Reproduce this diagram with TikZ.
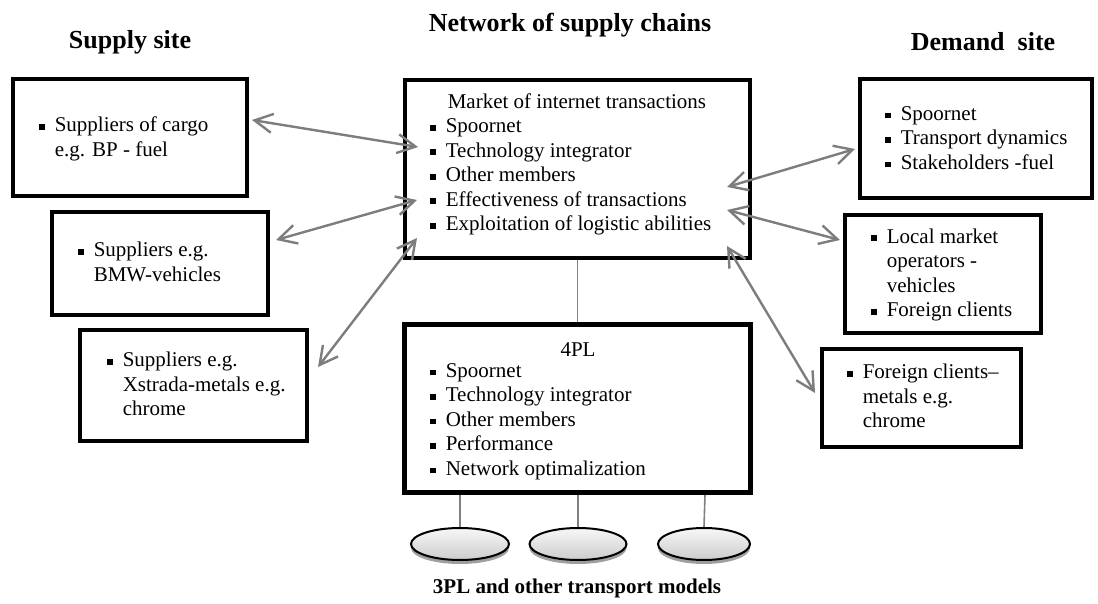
\documentclass[tikz,border=0pt]{standalone}
\usepackage{fontspec}
\setmainfont{Liberation Serif}
\usetikzlibrary{arrows.meta,shadows,shapes.geometric}
\newcommand{\sqb}{\raisebox{1pt}{\rule{2.9pt}{2.9pt}}}
\newenvironment{blist}{\begin{tabular}{@{}l@{\hspace{4.8pt}}l@{}}}{\end{tabular}}
\begin{document}
\begin{tikzpicture}[x=0.5pt,y=-0.5pt,
  box/.style={draw=black,line width=2.3pt,fill=white,inner sep=0pt},
  txt/.style={anchor=west,inner sep=0pt,font=\fontsize{10.5}{12.25}\selectfont},
  ttl/.style={inner sep=0pt,font=\fontsize{13}{15}\selectfont\bfseries},
  link/.style={draw=gray!98!black,line width=1.2pt,{Straight Barb[length=9pt,width=9.5pt]}-{Straight Barb[length=9pt,width=9.5pt]}},
  tie/.style={draw=gray,line width=0.8pt},
  oval/.style={ellipse,draw=black,line width=1pt,top color=gray!6,bottom color=gray!40,
    minimum width=48pt,minimum height=16pt,inner sep=0pt,
    drop shadow={shadow xshift=0pt,shadow yshift=-2pt,fill=gray!75,opacity=1}}]
\useasboundingbox (0,0) rectangle (1098,604);

% titles
\node[ttl] (tsup) at (130,42) {Supply site};
\node[ttl] (tnet) at (570,25) {Network of supply chains};
\node[ttl] (tdem) at (983,42) {Demand\ \ site};
\node[inner sep=0pt,font=\fontsize{10.5}{12}\selectfont\bfseries] (t3pl) at (577,588) {3PL and other transport models};

% boxes
\node[box,minimum width=117pt,minimum height=58.5pt] (s1) at (130,137.5) {};
\node[box,minimum width=108pt,minimum height=51.5pt] (s2) at (160,263.5) {};
\node[box,minimum width=113.5pt,minimum height=55.5pt] (s3) at (193.5,385.5) {};
\node[box,minimum width=172.5pt,minimum height=89pt] (c) at (577.5,169) {};
\node[box,minimum width=173pt,minimum height=84pt] (p) at (577.5,408.5) {};
\node[box,minimum width=116pt,minimum height=59.5pt] (d1) at (976,138.5) {};
\node[box,minimum width=98pt,minimum height=59pt] (d2) at (943,274) {};
\node[box,minimum width=99.5pt,minimum height=49pt] (d3) at (921.5,398) {};

% texts
\node[txt] (s1t) at (39,139) {\begin{blist}\sqb & Suppliers of cargo\\ & e.g. BP - fuel\end{blist}};
\node[txt] (s2t) at (78,264) {\begin{blist}\sqb & Suppliers e.g.\\ & BMW-vehicles\end{blist}};
\node[txt] (s3t) at (107,386.5) {\begin{blist}\sqb & Suppliers e.g.\\ & Xstrada-metals e.g.\\ & chrome\end{blist}};
\node[txt] (ct) at (430,164.5) {\begin{blist} & \hspace{1pt}Market of internet transactions\\
  \sqb & Spoornet\\ \sqb & Technology integrator\\ \sqb & Other members\\
  \sqb & Effectiveness of transactions\\ \sqb & Exploitation of logistic abilities\end{blist}};
\node[inner sep=0pt,font=\fontsize{10.5}{12.25}\selectfont] (pt0) at (578,350) {4PL};
\node[txt] (pt) at (430,421.5) {\begin{blist}\sqb & Spoornet\\ \sqb & Technology integrator\\ \sqb & Other members\\
  \sqb & Performance\\ \sqb & Network optimalization\end{blist}};
\node[txt] (d1t) at (885,140) {\begin{blist}\sqb & Spoornet\\ \sqb & Transport dynamics\\ \sqb & Stakeholders -fuel\end{blist}};
\node[txt] (d2t) at (871,275) {\begin{blist}\sqb & Local market\\ & operators -\\ & vehicles\\ \sqb & Foreign clients\end{blist}};
\node[txt] (d3t) at (847,398.5) {\begin{blist}\sqb & Foreign clients--\\ & metals e.g.\\ & chrome\end{blist}};

% ellipses
\node[oval,minimum width=49pt] (e1) at (460,544) {};
\node[oval,minimum width=48.5pt] (e2) at (578,544) {};
\node[oval,minimum width=46pt] (e3) at (704,544) {};

% ties
\draw[tie] (c.south) -- (p.north);
\draw[tie] (p.south -| e1.north) -- (e1.north);
\draw[tie] (p.south -| e2.north) -- (e2.north);
\draw[tie] (705,495) -- (e3.north);

% arrow end points
\coordinate (a1l) at (252,120); \coordinate (a1r) at (418,147);
\coordinate (a2l) at (276,240); \coordinate (a2r) at (417,200);
\coordinate (a3l) at (318,367); \coordinate (a3r) at (417,238);
\coordinate (a4l) at (727,187); \coordinate (a4r) at (855,149);
\coordinate (a5l) at (727,210); \coordinate (a5r) at (840,240);
\coordinate (a6l) at (727,246); \coordinate (a6r) at (815,393);

\draw[link] (a1l) -- (a1r);
\draw[link] (a2l) -- (a2r);
\draw[link] (a3l) -- (a3r);
\draw[link] (a4l) -- (a4r);
\draw[link] (a5l) -- (a5r);
\draw[link] (a6l) -- (a6r);
\end{tikzpicture}
\end{document}
